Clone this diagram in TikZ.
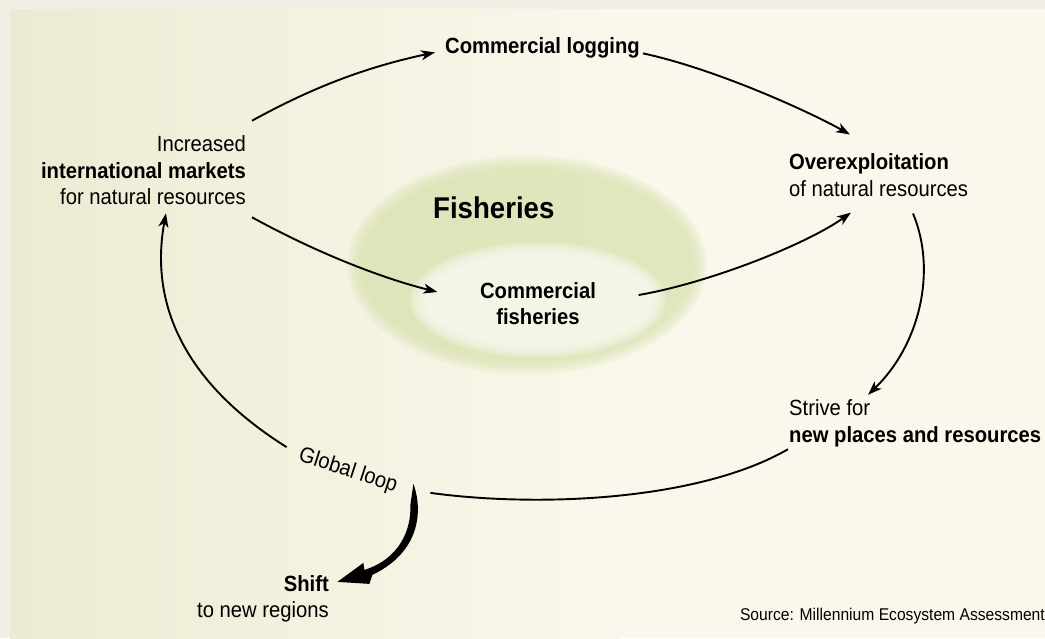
\documentclass[tikz,border=0pt]{standalone}
\usepackage{fontspec}
\setmainfont[FakeStretch=0.92]{Liberation Sans}
\usetikzlibrary{calc,arrows.meta}
\definecolor{framegray}{RGB}{240,240,230}
\definecolor{panelleft}{RGB}{237,234,211}
\definecolor{panelright}{RGB}{250,248,236}
\definecolor{ringgreen}{RGB}{216,226,172}
\definecolor{holewhite}{RGB}{250,249,240}
\tikzstyle{lbl} = [inner sep=0pt, font=\fontsize{22}{26.5}\selectfont]
\tikzstyle{arrow} = [line width=1.9pt,-{Stealth[length=14pt,width=10pt,inset=4pt]}]
\tikzstyle{link} = [line width=1.9pt]

\begin{document}
\begin{tikzpicture}[x=1pt,y=-1pt]
\useasboundingbox (0,0) rectangle (1045,638);
% background
\fill[framegray] (0,0) rectangle (1045,638);
\fill[panelright] (10,9) rectangle (1045,638);
\shade[left color=panelleft, right color=panelright] (10,9) rectangle (620,638);

% ring
\foreach \k in {0,...,7}
	\fill[ringgreen, opacity=0.14] (527,265) ellipse ({180-2*\k} and {110-2*\k});
\foreach \k in {0,...,7}
	\fill[holewhite, opacity=0.22] (538,300) ellipse ({128-2.2*\k} and {58-1.8*\k});

\node[lbl, align=right, anchor=east] (incr) at (246,170.5) {Increased\\\textbf{international markets}\\for natural resources};
\node[lbl, anchor=base west] (logging) at (445,53) {\textbf{Commercial logging}};
\node[lbl, align=left, anchor=west] (overex) at (789,175) {\textbf{Overexploitation}\\of natural resources};
\node[lbl, align=left, anchor=west] (strive) at (789,423.5) {Strive for\\\textbf{new places and resources}};
\node[lbl, align=center, font=\bfseries\fontsize{22}{26.5}\selectfont] (fish) at (538,303.5) {Commercial\\fisheries};
\node[inner sep=0pt, anchor=base west, font=\bfseries\fontsize{30}{36}\selectfont] (title) at (433,218) {Fisheries};
\node[lbl, rotate=-18] (gloop) at (348,471) {Global loop};
\node[lbl, align=right, anchor=east] (shiftnew) at (329,599) {\textbf{Shift}\\to new regions};
\node[inner sep=0pt, anchor=base east, font=\fontsize{17}{20}\selectfont] (source) at (1045,620) {Source: Millennium Ecosystem Assessment};

\draw[arrow] ($(incr.north east)+(6,-15)$) .. controls +(60,-33) and +(-70,15) .. ($(logging.west)+(-10,5)$);
\draw[arrow] ($(logging.east)+(3,6)$) .. controls +(70,15) and +(-45,-25) .. ($(overex.north west)+(61,-19)$);
\draw[arrow] ($(incr.south east)+(6,12)$) .. controls +(60,33) and +(-60,-15) .. ($(fish.west)+(-42.5,-11.5)$);
\draw[arrow] ($(fish.east)+(42.5,-8.5)$) .. controls +(70,-12) and +(-45,32) .. ($(overex.south west)+(62,16)$);
\draw[arrow] ($(overex.south west)+(124,17)$) .. controls +(24,57) and +(52,-50) .. ($(strive.north west)+(79,-5)$);
\draw[link] ($(strive.south west)+(-1,2)$) .. controls +(-88,51) and +(110,15) .. ($(gloop.east)+(33.5,6)$);
\draw[arrow] ($(gloop.west)+(-12.5,-8)$) .. controls +(-80,-50) and +(-20,110) .. ($(incr.south)+(22.5,8)$);

% shift swoosh
\coordinate (swtop) at ($(gloop.east)+(16.5,-2)$);
\fill[shift={(swtop)}] (0,-1) .. controls (8,20) and (11,65) .. (-41,90) -- (-44,99) -- (-76,97) -- (-50,78) -- (-49,85)
	.. controls (-14,74) and (-2,45) .. (-3,20) .. controls (-2,10) .. (0,-1) -- cycle;

\end{tikzpicture}
\end{document}
